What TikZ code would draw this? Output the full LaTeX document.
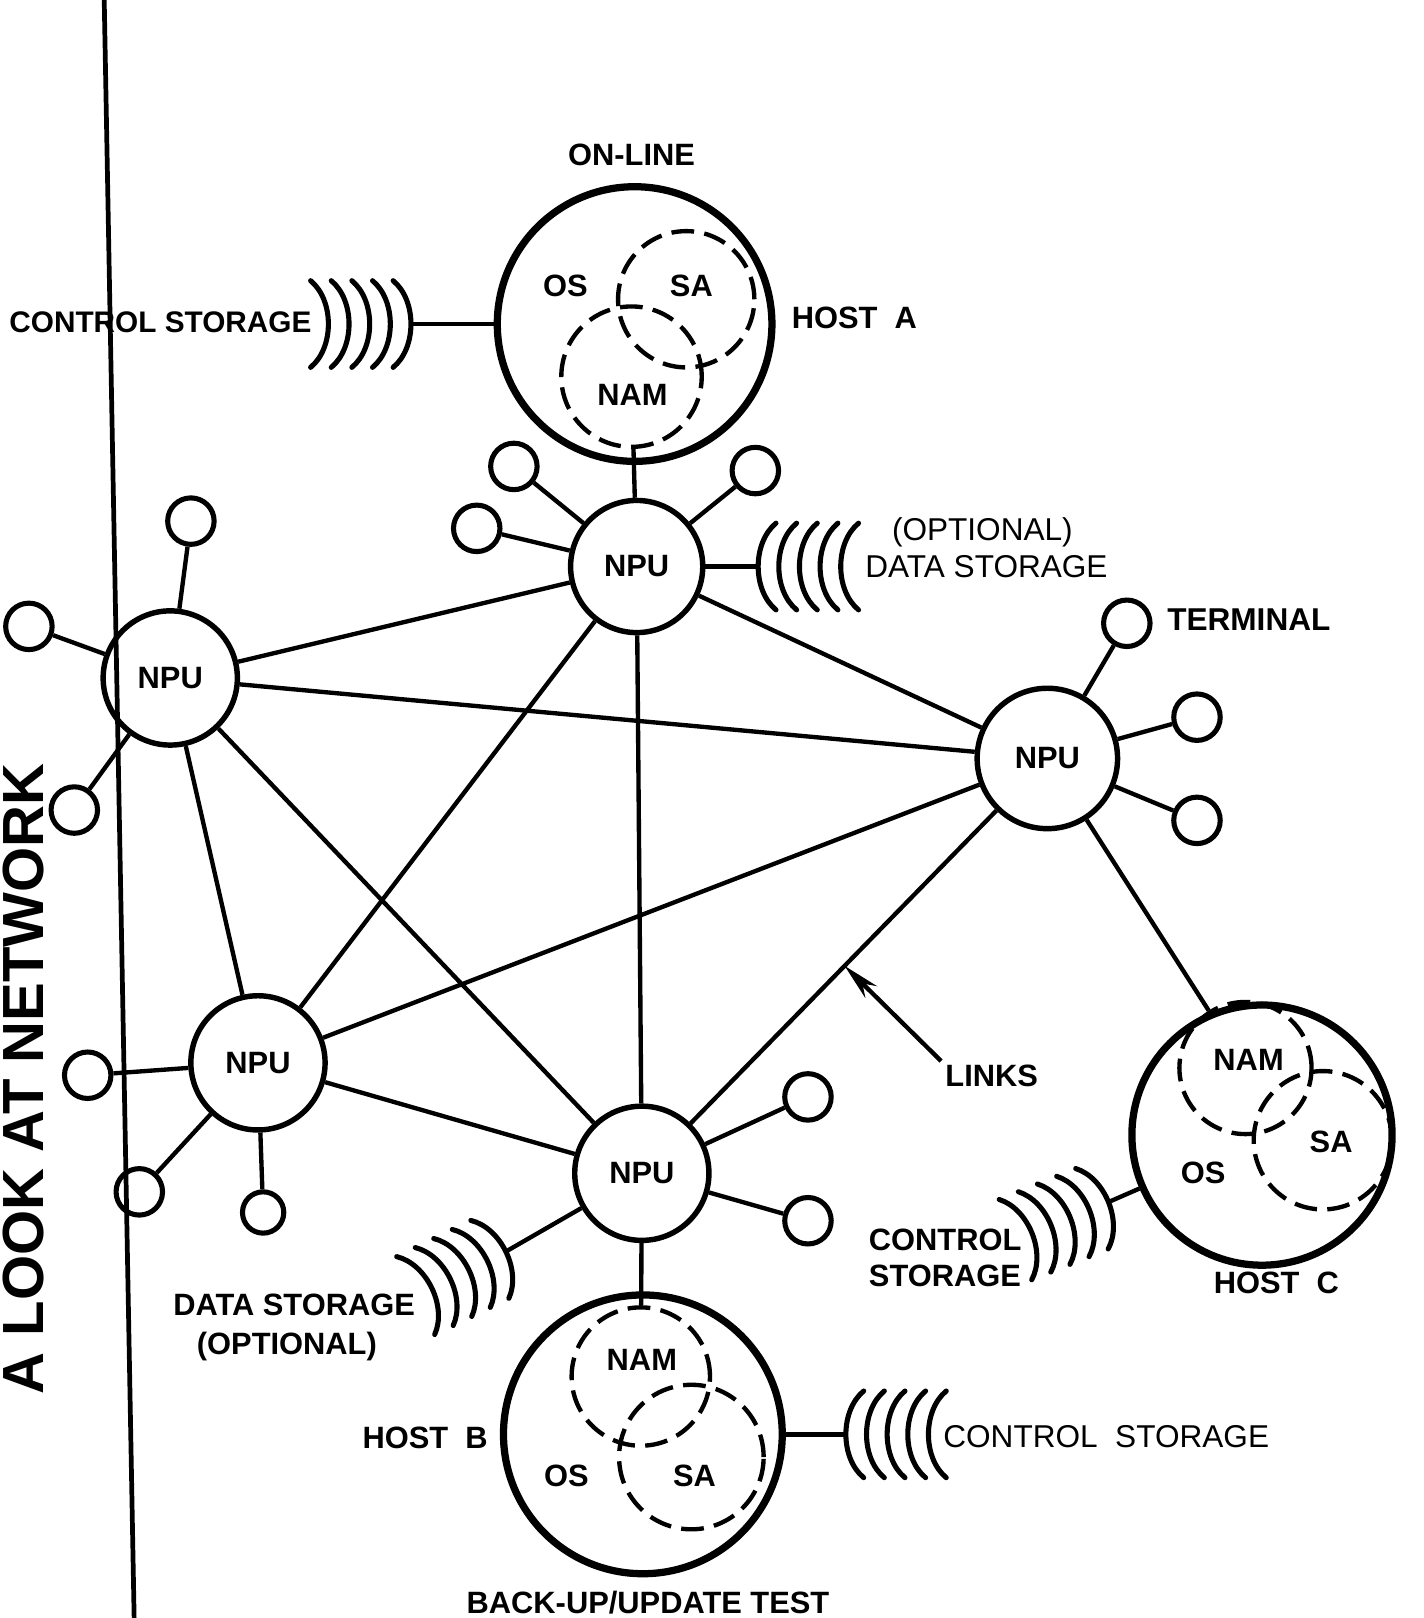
\documentclass[tikz,border=0pt]{standalone}
\usepackage{fontspec}
\setmainfont{Liberation Sans}
\usetikzlibrary{calc,arrows.meta}
\newcommand{\boldlbl}{\fontsize{8.5}{9.7}\selectfont\bfseries}
\newcommand{\thinlbl}{\fontsize{8.7}{10}\selectfont}
\tikzset{
  npu/.style={circle,draw,line width=1.5pt,minimum size=1.28cm,inner sep=0pt,font=\boldlbl},
  term/.style={circle,draw,line width=1.4pt,minimum size=0.45cm,inner sep=0pt},
  host/.style={circle,draw,line width=2pt,minimum size=2.66cm,inner sep=0pt},
  part/.style={circle,draw,line width=1.2pt,dash pattern=on 0.22cm off 0.1cm,inner sep=0pt},
  lnk/.style={line width=1.2pt},
  lbl/.style={font=\boldlbl,inner sep=1pt},
  thin/.style={font=\thinlbl,inner sep=1pt},
  disks/.pic={
    \foreach \k in {0,...,4}
      \draw[line width=1.4pt,line cap=round] ({\k*20+17},42) .. controls ({\k*20-6},23) and ({\k*20-6},-23) .. ({\k*20+17},-42);
  }
}
\begin{document}
\begin{tikzpicture}[x=0.01cm,y=-0.01cm]
  \clip (0,0) rectangle (1380,1568);
  \draw[line width=1.3pt] (101,0) -- (130,1568);
  \node[font=\fontsize{16}{18}\selectfont\bfseries,rotate=90,anchor=base west,inner sep=0pt] (title) at (42,1352) {A LOOK AT NETWORK};

  % host A
  \node[host] (hostA) at (615,314) {};
  \node[part,minimum size=1.32cm] (saA) at (665,290) {};
  \node[part,minimum size=1.36cm] (namA) at (612,365) {};
  \node[lbl] (osAt) at (548,277) {OS};
  \node[lbl] (saAt) at (670,277) {SA};
  \node[lbl] (namAt) at (613,383) {NAM};
  \node[lbl] (online) at (612,150) {ON-LINE};
  \node[lbl] (hostAt) at (828,308) {HOST\ \ A};
  \coordinate (csA) at (398,314);
  \draw[lnk] (hostA) -- (csA);
  \pic[rotate=180] at (csA) {disks};
  \node[lbl,anchor=east,font=\fontsize{8.2}{9.7}\selectfont\bfseries] (csAt) at (306,312) {CONTROL STORAGE};

  % NPUs
  \node[npu] (npuA) at (617,549) {NPU};
  \node[npu,minimum size=1.3cm] (npuB) at (165,657) {NPU};
  \node[npu,minimum size=1.36cm] (npuC) at (1015,735) {NPU};
  \node[npu,minimum size=1.3cm] (npuD) at (250,1030) {NPU};
  \node[npu,minimum size=1.3cm] (npuE) at (622,1137) {NPU};
  \foreach \a/\b in {npuA/npuB,npuA/npuC,npuA/npuD,npuA/npuE,npuB/npuC,npuB/npuD,npuB/npuE,npuC/npuD,npuC/npuE,npuD/npuE}
    \draw[lnk] (\a) -- (\b);
  \draw[lnk] (npuA) -- (namA);

  % terminals
  \node[term] (tA1) at (498,452) {};
  \node[term] (tA2) at (462,512) {};
  \node[term] (tA3) at (732,456) {};
  \node[term] (tB1) at (185,505) {};
  \node[term] (tB2) at (28,607) {};
  \node[term] (tB3) at (72,785) {};
  \node[term] (tC1) at (1092,604) {};
  \node[term] (tC2) at (1160,695) {};
  \node[term] (tC3) at (1160,795) {};
  \node[term] (tD1) at (85,1042) {};
  \node[term] (tD2) at (135,1155) {};
  \node[term,minimum size=0.4cm] (tD3) at (255,1175) {};
  \node[term] (tE1) at (783,1063) {};
  \node[term] (tE2) at (783,1183) {};
  \foreach \n/\t in {npuA/tA1,npuA/tA2,npuA/tA3,npuB/tB1,npuB/tB2,npuB/tB3,npuC/tC1,npuC/tC2,npuC/tC3,npuD/tD1,npuD/tD2,npuD/tD3,npuE/tE1,npuE/tE2}
    \draw[lnk] (\n) -- (\t);
  \node[lbl,anchor=west,font=\fontsize{8.7}{10}\selectfont\bfseries] (termt) at (1127,600) {TERMINAL};

  % optional data storage
  \coordinate (dsA) at (735,549);
  \draw[lnk] (npuA) -- (dsA);
  \pic at (dsA) {disks};
  \node[thin] (dsAt1) at (952,516) {(OPTIONAL)};
  \node[thin] (dsAt2) at (956,549) {DATA STORAGE};
  \coordinate (dsE) at (490,1213);
  \draw[lnk] (npuE) -- (dsE);
  \pic[rotate=206] at (dsE) {disks};
  \node[lbl] (dsEt1) at (285,1265) {DATA STORAGE};
  \node[lbl] (dsEt2) at (278,1305) {(OPTIONAL)};

  % host B
  \node[host,minimum size=2.7cm] (hostB) at (623,1390) {};
  \node[part,minimum size=1.34cm] (namB) at (621,1334) {};
  \node[part,minimum size=1.4cm] (saB) at (670,1412) {};
  \node[lbl] (namBt) at (622,1318) {NAM};
  \node[lbl] (osBt) at (549,1430) {OS};
  \node[lbl] (saBt) at (673,1430) {SA};
  \node[lbl] (hostBt) at (412,1393) {HOST\ \ B};
  \node[lbl] (backup) at (628,1553) {BACK-UP/UPDATE TEST};
  \draw[lnk] (npuE) -- (namB);
  \coordinate (csB) at (820,1390);
  \draw[lnk] (hostB) -- (csB);
  \pic at (csB) {disks};
  \node[thin,anchor=west] (csBt) at (910,1392) {CONTROL\ \ STORAGE};

  % host C
  \node[host,minimum size=2.52cm] (hostC) at (1223,1100) {};
  \node[part,minimum size=1.28cm] (namC) at (1207,1035) {};
  \node[part,minimum size=1.34cm] (saC) at (1282,1105) {};
  \node[lbl] (namCt) at (1210,1027) {NAM};
  \node[lbl] (saCt) at (1290,1107) {SA};
  \node[lbl] (osCt) at (1166,1137) {OS};
  \node[lbl] (hostCt) at (1237,1243) {HOST\ \ C};
  \draw[lnk] (npuC) -- (namC);
  \coordinate (csC) at (1074,1165);
  \draw[lnk] (hostC) -- (csC);
  \pic[rotate=202] at (csC) {disks};
  \node[lbl,align=left] (csCt) at (916,1219) {CONTROL\\STORAGE};

  % links label
  \node[lbl,anchor=west] (links) at (912,1043) {LINKS};
  \coordinate (lk) at ($(npuC)!0.5!(npuE)$);
  \draw[lnk,-{Stealth[length=0.36cm,width=0.16cm]}] (links.north west) -- (lk);
\end{tikzpicture}
\end{document}
